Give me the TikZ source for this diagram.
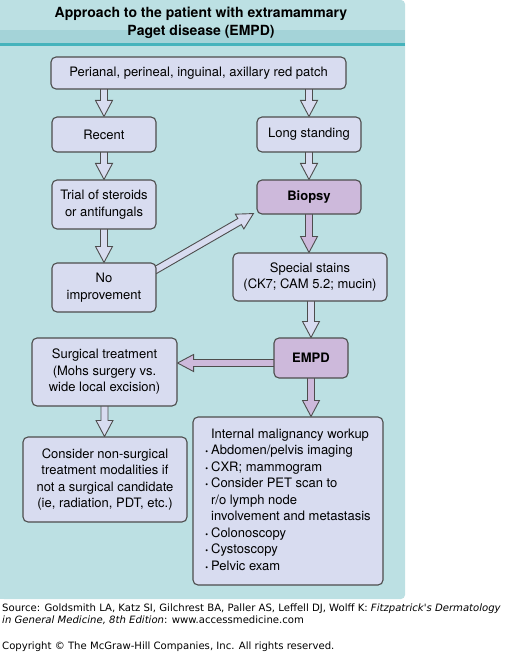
\documentclass[tikz,border=0pt]{standalone}
\usepackage{fontspec}
\setmainfont{TeX Gyre Heros}
\newfontfamily\footfont{DejaVu Sans}
\usetikzlibrary{calc,positioning}

\definecolor{panelbg}{HTML}{BCE0E3}
\definecolor{bandbg}{HTML}{A4D3D8}
\definecolor{bandline}{HTML}{45B3BC}
\definecolor{boxfill}{HTML}{D8DCF0}
\definecolor{keyfill}{HTML}{CDB9DB}
\definecolor{boxline}{HTML}{4D4D4D}

\pgfdeclarelayer{back}
\pgfdeclarelayer{arrows}
\pgfsetlayers{back,arrows,main}

\newcommand\itemdot{{\fontsize{8}{8}\selectfont\textbullet}}

\tikzset{
  box/.style={draw=boxline, fill=boxfill, line width=1.1pt, rounded corners=5pt,
    align=center, inner sep=2pt, font=\fontsize{13}{16.5}\selectfont},
  keybox/.style={box, fill=keyfill, font=\fontsize{13}{16.5}\selectfont\bfseries},
  arrowline/.style={draw=boxline, line width=0.9pt, line join=miter},
  title/.style={align=center, font=\fontsize{14}{18}\selectfont\bfseries},
  foot/.style={align=left, inner sep=0pt, font=\footfont\fontsize{10.1}{12.3}\selectfont},
}

% hollow block arrow from #2 to #3, filled with #1
\newcommand\blockarrow[3][boxfill]{%
  \begin{pgfonlayer}{arrows}
  \coordinate (ba-a) at (#2);
  \coordinate (ba-b) at (#3);
  \coordinate (ba-s) at ($(ba-a)!-3pt!(ba-b)$);
  \coordinate (ba-n) at ($(ba-b)!16pt!(ba-a)$);
  \draw[arrowline, fill=#1]
    ($(ba-s)!3.5pt!90:(ba-b)$) -- ($(ba-n)!3.5pt!90:(ba-b)$)
    -- ($(ba-n)!8.5pt!90:(ba-b)$) -- (ba-b)
    -- ($(ba-n)!8.5pt!-90:(ba-b)$) -- ($(ba-n)!3.5pt!-90:(ba-b)$)
    -- ($(ba-s)!3.5pt!-90:(ba-b)$) -- cycle;
  \end{pgfonlayer}
}

\begin{document}
\begin{tikzpicture}[x=1pt, y=-1pt]
  \useasboundingbox (0,0) rectangle (506,655);

  \begin{pgfonlayer}{back}
    \fill[panelbg, rounded corners=4pt] (0,0) rectangle (405,599);
    \fill[panelbg] (0,0) rectangle (10,599);
    \fill[bandbg] (0,30) rectangle (405,43);
    \fill[bandline] (0,43) rectangle (405,46);
  \end{pgfonlayer}

  \node[title] (title) at (201,23) {Approach to the patient with extramammary\\Paget disease (EMPD)};

  % left column
  \node[box, minimum width=295pt, minimum height=32pt] (patch) at (198.5,73)
    {Perianal, perineal, inguinal, axillary red patch};
  \node[box, minimum width=104pt, minimum height=35pt] (recent) at (104,134.5) {Recent};
  \node[box, minimum width=104pt, minimum height=49pt] (trial) at (104,204.5)
    {Trial of steroids\\or antifungals};
  \node[box, minimum width=104pt, minimum height=49pt] (noimp) at (104,287.5)
    {No\\improvement};
  \node[box, minimum width=145pt, minimum height=68pt] (surg) at (104.5,372)
    {Surgical treatment\\(Mohs surgery vs.\\wide local excision)};
  \node[box, minimum width=164pt, minimum height=85pt] (nonsurg) at (105,479.5)
    {Consider non-surgical\\treatment modalities if\\not a surgical candidate\\(ie, radiation, PDT, etc.)};

  % right column
  \node[box, minimum width=104pt, minimum height=35pt] (longst) at (309,134.5) {Long standing};
  \node[keybox, minimum width=104pt, minimum height=34pt] (biopsy) at (309,197) {Biopsy};
  \node[box, minimum width=154pt, minimum height=48pt] (stains) at (310,277)
    {Special stains\\(CK7; CAM 5.2; mucin)};
  \node[keybox, minimum width=74pt, minimum height=40pt] (empd) at (311,358) {EMPD};
  \node[box, minimum width=190pt, minimum height=168pt] (workup) at (288,501)
    {\begin{tabular}{@{}l@{\hspace{3pt}}l@{}}
       & Internal malignancy workup\\
     \itemdot & Abdomen/pelvis imaging\\
     \itemdot & CXR; mammogram\\
     \itemdot & Consider PET scan to\\
       & r/o lymph node\\
       & involvement and metastasis\\
     \itemdot & Colonoscopy\\
     \itemdot & Cystoscopy\\
     \itemdot & Pelvic exam
     \end{tabular}};

  \coordinate (noimpout) at ($(noimp.north east)+(0,7)$);
  \coordinate (biopsyin) at ($(biopsy.south west)+(-3,-1)$);
  \coordinate (empdout) at ($(empd.west)+(0,5)$);
  \coordinate (surgin) at (empdout -| surg.east);

  \blockarrow{recent.north |- patch.south}{recent.north}
  \blockarrow{longst.north |- patch.south}{longst.north}
  \blockarrow{recent.south}{trial.north}
  \blockarrow{trial.south}{noimp.north}
  \blockarrow{longst.south}{biopsy.north}
  \blockarrow{noimpout}{biopsyin}
  \blockarrow[keyfill]{biopsy.south}{biopsy.south |- stains.north}
  \blockarrow{stains.south -| empd.south}{empd.north}
  \blockarrow[keyfill]{empdout}{surgin}
  \blockarrow[keyfill]{empd.south}{empd.south |- workup.north}
  \blockarrow{surg.south}{surg.south |- nonsurg.north}

  \node[foot, anchor=north west] (src) at (2,603.5)
    {Source: Goldsmith LA, Katz SI, Gilchrest BA, Paller AS, Leffell DJ, Wolff K: \textit{Fitzpatrick's Dermatology}\\
     \textit{in General Medicine, 8th Edition}: www.accessmedicine.com};
  \node[foot, anchor=west] (copy) at (2,646.5)
    {Copyright \textcopyright{} The McGraw-Hill Companies, Inc. All rights reserved.};
\end{tikzpicture}
\end{document}
